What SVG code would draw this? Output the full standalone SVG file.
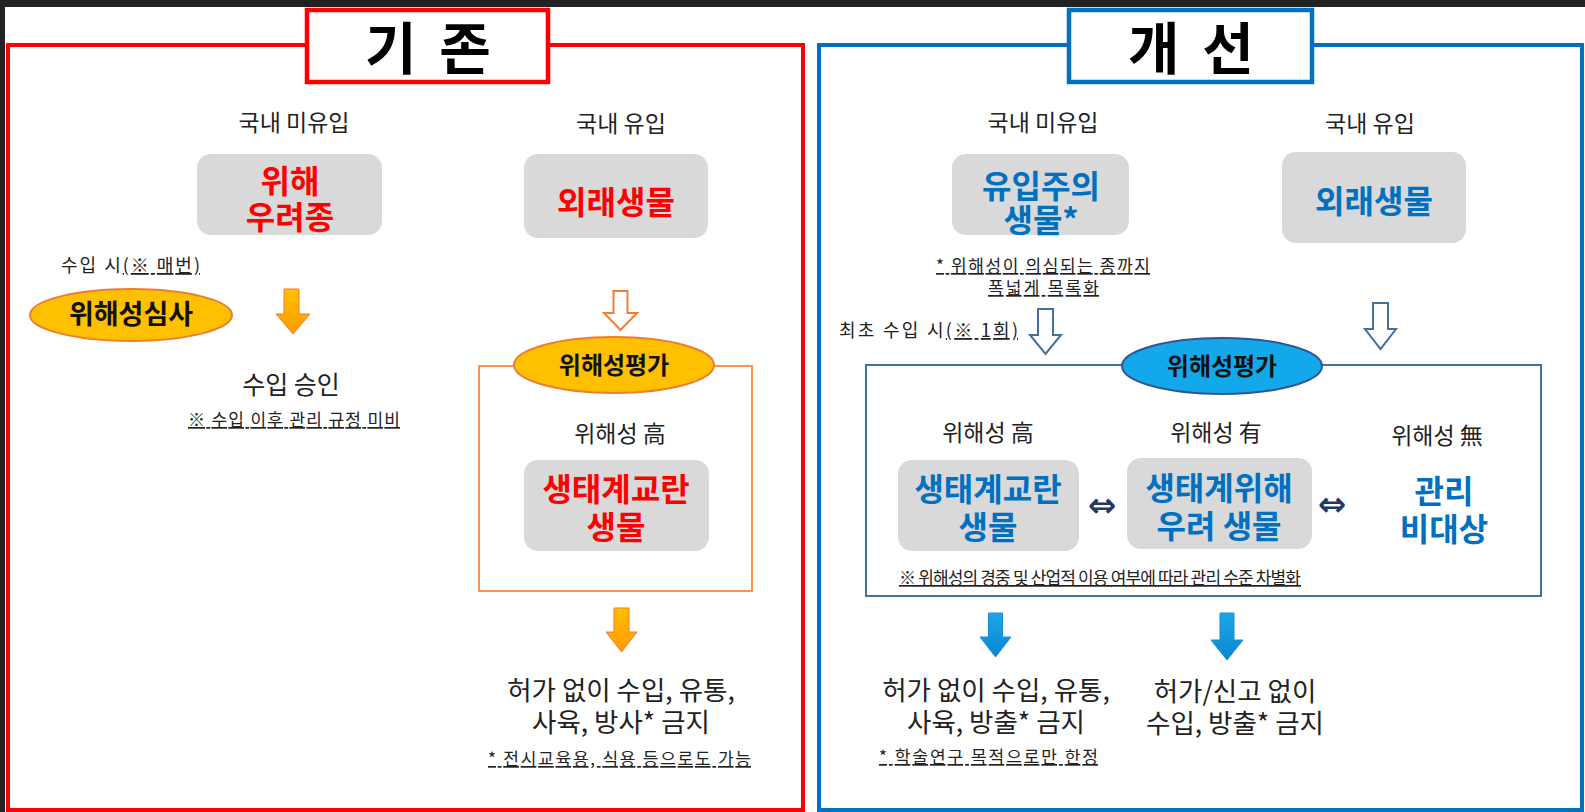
<svg xmlns="http://www.w3.org/2000/svg" width="1585" height="812" viewBox="0 0 1585 812">
<style>
text{font-family:"Noto Sans CJK KR","Noto Sans",sans-serif;}
.lbl{font-size:23px;fill:#222;text-anchor:middle;}
.big{font-size:26.5px;fill:#222;text-anchor:middle;}
.note{font-size:17px;fill:#222;}
.ul{text-decoration:underline;}
.red{font-size:32px;font-weight:bold;fill:#ff0000;text-anchor:middle;}
.blu{font-size:32px;font-weight:bold;fill:#0070c0;text-anchor:middle;}
.ell{font-size:24px;font-weight:bold;fill:#111;text-anchor:middle;}
.ttl{font-size:56px;font-weight:bold;fill:#000;text-anchor:middle;word-spacing:10px;}
.gbox{fill:#d9d9d9;}
.oarr{fill:url(#og);stroke:#ed7d31;stroke-width:1;}
.ohol{fill:#fff;stroke:#f08030;stroke-width:2;}
.barr{fill:url(#bg);stroke:#1a8fd6;stroke-width:1;}
.bhol{fill:#fff;stroke:#41719c;stroke-width:2;}
.dbl{font-family:"DejaVu Sans",sans-serif;font-size:34px;font-weight:bold;fill:#1f3864;text-anchor:middle;}
</style>
<defs>
<linearGradient id="og" x1="0" y1="0" x2="0" y2="1"><stop offset="0" stop-color="#ffc000"/><stop offset="1" stop-color="#ff9a00"/></linearGradient>
<linearGradient id="bg" x1="0" y1="0" x2="0" y2="1"><stop offset="0" stop-color="#1aa7e8"/><stop offset="1" stop-color="#0a86d0"/></linearGradient>
</defs>
<rect x="0" y="0" width="1585" height="812" fill="#fff"/>
<rect x="0" y="0" width="1585" height="7" fill="#222"/>
<rect x="0" y="0" width="5" height="812" fill="#222"/>

<g id="panel-old">
<rect x="8" y="45" width="795" height="765" fill="none" stroke="#ff0000" stroke-width="4"/>
<rect x="307" y="10" width="241" height="72" fill="#fff" stroke="#ff0000" stroke-width="4.5"/>
<text class="ttl" x="428" y="69">기 존</text>
</g>

<g id="panel-new">
<rect x="819" y="45" width="763" height="765" fill="none" stroke="#0070c0" stroke-width="4"/>
<rect x="1069" y="10" width="243" height="72" fill="#fff" stroke="#0070c0" stroke-width="4.5"/>
<text class="ttl" x="1191" y="69">개 선</text>
</g>

<g id="connectors">
<path class="oarr" d="M 284 289 H 299 V 314 H 310 L 293 334 L 276 314 H 284 Z"/>
<path class="ohol" d="M 613.5 291 H 627.5 V 313 H 637 L 620.5 330 L 604 313 H 613.5 Z"/>
<path class="oarr" d="M 614 608 H 629 V 632 H 637 L 621.5 652 L 606 632 H 614 Z"/>
<path class="bhol" d="M 1038 309 H 1053 V 335 H 1061 L 1045.5 354 L 1030 335 H 1038 Z"/>
<path class="bhol" d="M 1373 303 H 1388 V 329 H 1396 L 1380.5 349 L 1365 329 H 1373 Z"/>
<path class="barr" d="M 988.5 613 H 1002.5 V 637 H 1011 L 995.5 657 L 980 637 H 988.5 Z"/>
<path class="barr" d="M 1220 613 H 1234 V 640 H 1243 L 1227 660 L 1211 640 H 1220 Z"/>
<text class="dbl" x="1102" y="517">⇔</text>
<text class="dbl" x="1332" y="516">⇔</text>
</g>

<g id="old-unintroduced">
<text class="lbl" x="294" y="131">국내 미유입</text>
<rect class="gbox" x="197" y="154" width="185" height="81" rx="14"/>
<text class="red" x="290" y="193">위해<tspan x="290" dy="36">우려종</tspan></text>
</g>

<g id="old-import-note">
<text class="note" x="61" y="272" style="font-size:18px" textLength="139" lengthAdjust="spacing">수입 시<tspan class="ul">(※ 매번)</tspan></text>
</g>

<g id="old-review">
<ellipse cx="131" cy="315" rx="101" ry="26" fill="#ffc000" stroke="#ed7d31" stroke-width="2"/>
<text class="ell" x="131" y="324" style="font-size:27px">위해성심사</text>
</g>

<g id="old-approval">
<text class="big" x="291" y="394" style="font-size:25px">수입 승인</text>
<text class="note ul" x="188" y="426" textLength="212" lengthAdjust="spacing">※ 수입 이후 관리 규정 미비</text>
</g>

<g id="old-introduced">
<text class="lbl" x="621" y="132">국내 유입</text>
<rect class="gbox" x="524" y="154" width="184" height="84" rx="14"/>
<text class="red" x="616" y="214">외래생물</text>
</g>

<g id="old-assessment">
<rect x="479" y="366" width="273" height="225" fill="none" stroke="#f79646" stroke-width="2"/>
<ellipse cx="614" cy="365" rx="100" ry="28" fill="#ffc000" stroke="#ed7d31" stroke-width="2"/>
<text class="ell" x="614" y="374">위해성평가</text>
<text class="lbl" x="620" y="442">위해성 高</text>
<rect class="gbox" x="524" y="460" width="185" height="91" rx="14"/>
<text class="red" x="616" y="501">생태계교란<tspan x="616" dy="38">생물</tspan></text>
</g>

<g id="old-result">
<text class="big" x="621" y="700">허가 없이 수입, 유통,<tspan x="621" dy="32">사육, 방사* 금지</tspan></text>
<text class="note ul" x="488" y="765" textLength="263" lengthAdjust="spacing">* 전시교육용, 식용 등으로도 가능</text>
</g>

<g id="new-unintroduced">
<text class="lbl" x="1043" y="131">국내 미유입</text>
<rect class="gbox" x="952" y="154" width="177" height="81" rx="14"/>
<text class="blu" x="1041" y="198">유입주의<tspan x="1041" dy="34">생물*</tspan></text>
<text class="note ul" x="936" y="272" textLength="214" lengthAdjust="spacing">* 위해성이 의심되는 종까지</text>
<text class="note ul" x="988" y="294" textLength="111" lengthAdjust="spacing">폭넓게  목록화</text>
</g>

<g id="new-import-note">
<text class="note" x="839" y="337" style="font-size:18px" textLength="179" lengthAdjust="spacing">최초 수입 시<tspan class="ul">(※ 1회)</tspan></text>
</g>

<g id="new-introduced">
<text class="lbl" x="1370" y="132">국내 유입</text>
<rect class="gbox" x="1282" y="152" width="184" height="91" rx="14"/>
<text class="blu" x="1374" y="213">외래생물</text>
</g>

<g id="new-assessment">
<rect x="866" y="365" width="675" height="231" fill="none" stroke="#41719c" stroke-width="2"/>
<ellipse cx="1222" cy="366" rx="100" ry="28" fill="#12a8ea" stroke="#2f5597" stroke-width="2"/>
<text class="ell" x="1222" y="375">위해성평가</text>
</g>

<g id="new-high">
<text class="lbl" x="988" y="441">위해성 高</text>
<rect class="gbox" x="898" y="460" width="181" height="91" rx="14"/>
<text class="blu" x="988" y="501">생태계교란<tspan x="988" dy="38">생물</tspan></text>
</g>

<g id="new-medium">
<text class="lbl" x="1216" y="441">위해성 有</text>
<rect class="gbox" x="1127" y="458" width="185" height="91" rx="14"/>
<text class="blu" x="1219" y="500">생태계위해<tspan x="1219" dy="38">우려 생물</tspan></text>
</g>

<g id="new-none">
<text class="lbl" x="1437" y="444">위해성 無</text>
<text class="blu" x="1444" y="503">관리<tspan x="1444" dy="38">비대상</tspan></text>
</g>

<g id="new-assessment-note">
<text class="note ul" x="899" y="584" textLength="402" lengthAdjust="spacing">※ 위해성의 경중 및 산업적 이용 여부에 따라 관리 수준 차별화</text>
</g>

<g id="new-result-high">
<text class="big" x="996" y="700">허가 없이 수입, 유통,<tspan x="996" dy="32">사육, 방출* 금지</tspan></text>
<text class="note ul" x="879" y="763" textLength="219" lengthAdjust="spacing">* 학술연구 목적으로만 한정</text>
</g>

<g id="new-result-medium">
<text class="big" x="1235" y="701">허가/신고 없이<tspan x="1235" dy="32">수입, 방출* 금지</tspan></text>
</g>
</svg>
